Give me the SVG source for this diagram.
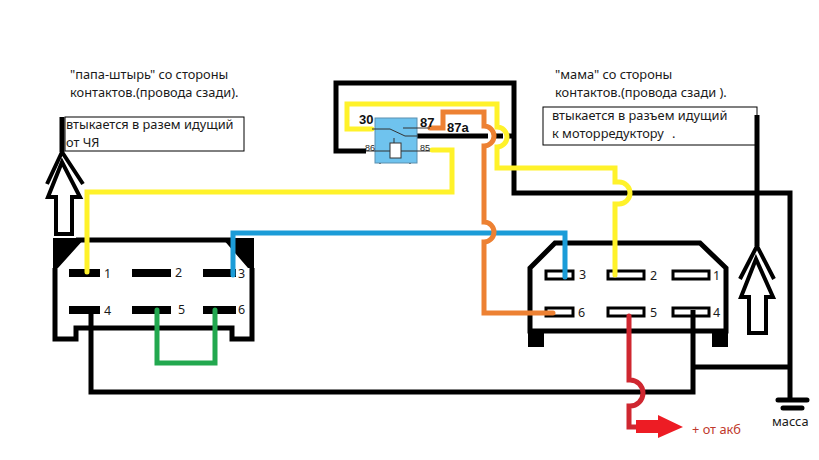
<svg xmlns="http://www.w3.org/2000/svg" width="819" height="460" viewBox="0 0 819 460">
<style>
text{font-family:"Noto Sans","Liberation Sans",sans-serif;fill:#1a1a1a}
.t{font-size:12.8px}
.p{font-size:12.5px}
.b{font-family:"Liberation Sans",sans-serif;font-weight:bold;font-size:13px;fill:#111}
.s{font-family:"Liberation Sans",sans-serif;font-size:9px;fill:#222}
.w{fill:none;stroke-linejoin:miter;stroke-linecap:round}
.k{stroke:#000;stroke-width:5;stroke-linecap:butt}
.y{stroke:#fff22a;stroke-width:5}
.c{stroke:#1b9cd8;stroke-width:5}
.o{stroke:#ed8133;stroke-width:5}
.g{stroke:#22a84f;stroke-width:5}
.r{stroke:#cf2730;stroke-width:5}
.pin{fill:#000}
.hp{fill:#fff;stroke:#000;stroke-width:3}
.th{fill:none;stroke:#333;stroke-width:1}
.a{fill:none;stroke:#000;stroke-width:4}
</style>
<rect width="819" height="460" fill="#fff"/>
<g id="plug-left">
<path d="M55 268V339H76V328H232V339H252V268M76 240H233" fill="none" stroke="#000" stroke-width="5"/>
<path d="M53 238H85L58 268H53Z M254 238H222L248 268H254Z" fill="#000"/>
<rect class="pin" x="69" y="269" width="31" height="8"/>
<rect class="pin" x="132" y="269" width="39" height="8"/>
<rect class="pin" x="203" y="269" width="33" height="8"/>
<rect class="pin" x="69" y="306" width="31" height="8"/>
<rect class="pin" x="132" y="306" width="39" height="8"/>
<rect class="pin" x="203" y="306" width="33" height="8"/>
<text class="p" x="104" y="278">1</text><text class="p" x="175" y="277">2</text><text class="p" x="238" y="278">3</text>
<text class="p" x="104" y="315">4</text><text class="p" x="178" y="314">5</text><text class="p" x="238" y="314">6</text>
</g>
<g id="plug-right">
<path d="M530 331V268L555 243H700L726 268V331Z" fill="none" stroke="#000" stroke-width="5"/>
<rect class="pin" x="528" y="331" width="16" height="16"/><rect class="pin" x="712" y="331" width="16" height="16"/>
<rect class="hp" x="546" y="271" width="27" height="8"/><rect class="hp" x="608" y="271" width="36" height="8"/><rect class="hp" x="673" y="271" width="36" height="8"/>
<rect class="hp" x="546" y="308" width="27" height="8"/><rect class="hp" x="608" y="308" width="36" height="8"/><rect class="hp" x="673" y="308" width="36" height="8"/>
<text class="p" x="579" y="279">3</text><text class="p" x="650" y="280">2</text><text class="p" x="713" y="280">1</text>
<text class="p" x="578" y="317">6</text><text class="p" x="650" y="317">5</text><text class="p" x="713" y="317">4</text>
</g>
<g id="connectors">
<path class="w k" d="M366 151H336V83H514V193H790V400"/>
<path class="w k" d="M91 310V392H693V310M693 367H791"/>
<path class="w k" d="M417 136H488M493 136H503M507 136H514"/>
<path class="w k" d="M757 115V246"/>
<path class="w g" d="M157 310V363H215V310"/>
<path class="w c" d="M233 275V233H565V277"/>
<path class="w o" d="M430 128H443V112H484V126A10 10 0 0 1 484 146V222A10 10 0 0 1 484 242V313H553"/>
<path class="w y" d="M372 129H347V104H497V127A10 10 0 0 1 497 147V168H615V182H619A11 11 0 0 1 619 204H615V275"/>
<path class="w y" d="M87 272V192H452V150H432"/>
<path class="w r" d="M629 316V380H630A13 13 0 0 1 630 406H629V427H640"/>
<path d="M636 420H658V415L683 427L658 438V433H636Z" fill="#ed1c24"/>
</g>
<g id="relay">
<rect x="375" y="118" width="42" height="45" fill="#6fc3ee" stroke="#5a8fb0" stroke-width="1"/>
<path class="th" d="M372 129H390L405 136H417M403 128H430M366 151H390M401 151H430M394 138V143M380 163V164M410 163V164"/>
<rect x="390" y="143" width="11" height="15" fill="#fff" stroke="#333"/>
<text class="b" x="359" y="124">30</text><text class="b" x="420" y="127">87</text><text class="b" x="447" y="132">87a</text>
<text class="s" x="365" y="151">86</text><text class="s" x="420" y="151">85</text>
</g>
<g id="label-left">
<text class="t" x="70" y="79">"папа-штырь" со стороны</text>
<text class="t" x="70" y="97">контактов.(провода сзади).</text>
<rect x="65" y="117" width="179" height="34" fill="none" stroke="#000"/>
<text class="t" x="66" y="129">втыкается в разем идущий</text>
<text class="t" x="66" y="147">от ЧЯ</text>
</g>
<g id="label-right">
<text class="t" x="555" y="79">"мама" со стороны</text>
<text class="t" x="555" y="97">контактов.(провода сзади ).</text>
<rect x="543" y="107" width="214" height="38" fill="none" stroke="#000"/>
<text class="t" x="552" y="120">втыкается в разъем идущий</text>
<text class="t" x="552" y="138">к моторредуктору<tspan x="672">.</tspan></text>
</g>
<g id="arrow-left">
<path d="M62 117V152" fill="none" stroke="#000" stroke-width="5"/>
<path class="a" d="M47 184L62 152L83 184"/>
<path class="a" d="M56 234V197H48L62 162L80 197H72V234Z"/>
</g>
<g id="arrow-right">
<path class="a" d="M740 279L757 246L774 279"/>
<path class="a" d="M749 333V297H741L756 259L773 297H766V333Z"/>
</g>
<g id="ground">
<path d="M778 400H807M783 408H802" stroke="#000" stroke-width="5" stroke-linecap="round"/>
<text class="t" x="772" y="426">масса</text>
</g>
<text x="692" y="434" class="t" style="fill:#c0392b">+ от акб</text>
</svg>
